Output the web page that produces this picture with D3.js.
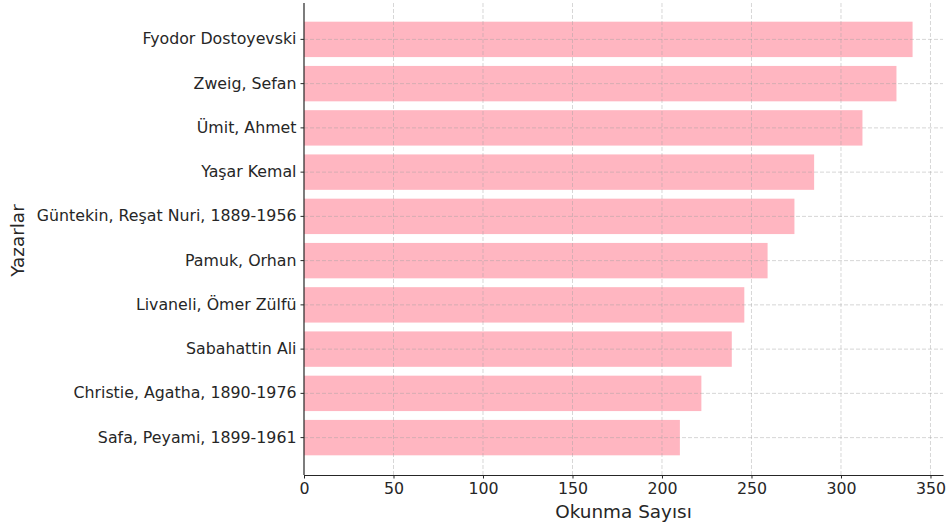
<!DOCTYPE html>
<html>
<head>
<meta charset="utf-8">
<script src="https://cdn.jsdelivr.net/npm/d3@7"></script>
<style>
  html, body { margin: 0; padding: 0; background: #fff; }
  svg { display: block; }
  text { font-family: "DejaVu Sans", sans-serif; fill: #262626; }
</style>
</head>
<body>
<svg id="chart" width="951" height="527"></svg>
<script>
const authors = [
  "Fyodor Dostoyevski",
  "Zweig, Sefan",
  "Ümit, Ahmet",
  "Yaşar Kemal",
  "Güntekin, Reşat Nuri, 1889-1956",
  "Pamuk, Orhan",
  "Livaneli, Ömer Zülfü",
  "Sabahattin Ali",
  "Christie, Agatha, 1890-1976",
  "Safa, Peyami, 1899-1961"
];
const readCounts = [340, 331, 312, 285, 274, 259, 246, 239, 222, 210];
const xTicks = [0, 50, 100, 150, 200, 250, 300, 350];
const xLabel = "Okunma Sayısı";
const yLabel = "Yazarlar";

const svg = d3.select("#chart");
const mLeft = 304, mRight = 943, mTop = 0, mBottom = 475;

const x = d3.scaleLinear().domain([0, 357]).range([mLeft, mRight]);
const y = d3.scaleBand().domain(authors).range([mTop, mBottom + 2])
  .paddingInner(0.2).paddingOuter(0.49);

// bars
svg.append("g").selectAll("rect").data(authors).join("rect")
  .attr("x", x(0))
  .attr("y", d => y(d))
  .attr("width", (d, i) => x(readCounts[i]) - x(0))
  .attr("height", y.bandwidth())
  .attr("fill", "#ffb6c1");

// grid (drawn over bars)
const grid = svg.append("g")
  .attr("stroke", "rgba(160,160,160,0.55)")
  .attr("stroke-width", 0.8)
  .attr("stroke-dasharray", "4,2");
grid.selectAll("line.v").data(xTicks.filter(t => t > 0)).join("line")
  .attr("class", "v")
  .attr("x1", d => x(d)).attr("x2", d => x(d))
  .attr("y1", 3).attr("y2", mBottom);
grid.selectAll("line.h").data(authors).join("line")
  .attr("class", "h")
  .attr("x1", mLeft).attr("x2", mRight)
  .attr("y1", d => y(d) + y.bandwidth() / 2)
  .attr("y2", d => y(d) + y.bandwidth() / 2);

// x axis
const xAxis = svg.append("g")
  .attr("transform", `translate(0,${mBottom})`)
  .call(d3.axisBottom(x).tickValues(xTicks).tickSize(3.5).tickPadding(4).tickSizeOuter(0));
xAxis.select(".domain").attr("stroke", "#262626").attr("stroke-width", 1.2);
xAxis.selectAll(".tick line").attr("stroke", "#262626");
xAxis.selectAll(".tick text").attr("font-size", "15.8px").attr("fill", "#262626")
  .attr("font-family", "DejaVu Sans, sans-serif");

// y axis
const yAxis = svg.append("g")
  .attr("transform", `translate(${mLeft},0)`)
  .call(d3.axisLeft(y).tickSize(3.5).tickPadding(4).tickSizeOuter(0));
yAxis.select(".domain").attr("d", `M0,3V${mBottom}`)
  .attr("stroke", "#262626").attr("stroke-width", 1.2);
yAxis.selectAll(".tick line").attr("stroke", "#262626");
yAxis.selectAll(".tick text").attr("font-size", "15.8px").attr("fill", "#262626")
  .attr("font-family", "DejaVu Sans, sans-serif");

// axis labels
svg.append("text")
  .attr("x", (mLeft + mRight) / 2)
  .attr("y", 518)
  .attr("text-anchor", "middle")
  .attr("font-size", "18.4px")
  .text(xLabel);

svg.append("text")
  .attr("transform", `translate(24,${(mTop + mBottom) / 2 + 3}) rotate(-90)`)
  .attr("text-anchor", "middle")
  .attr("font-size", "18.4px")
  .text(yLabel);
</script>
</body>
</html>
